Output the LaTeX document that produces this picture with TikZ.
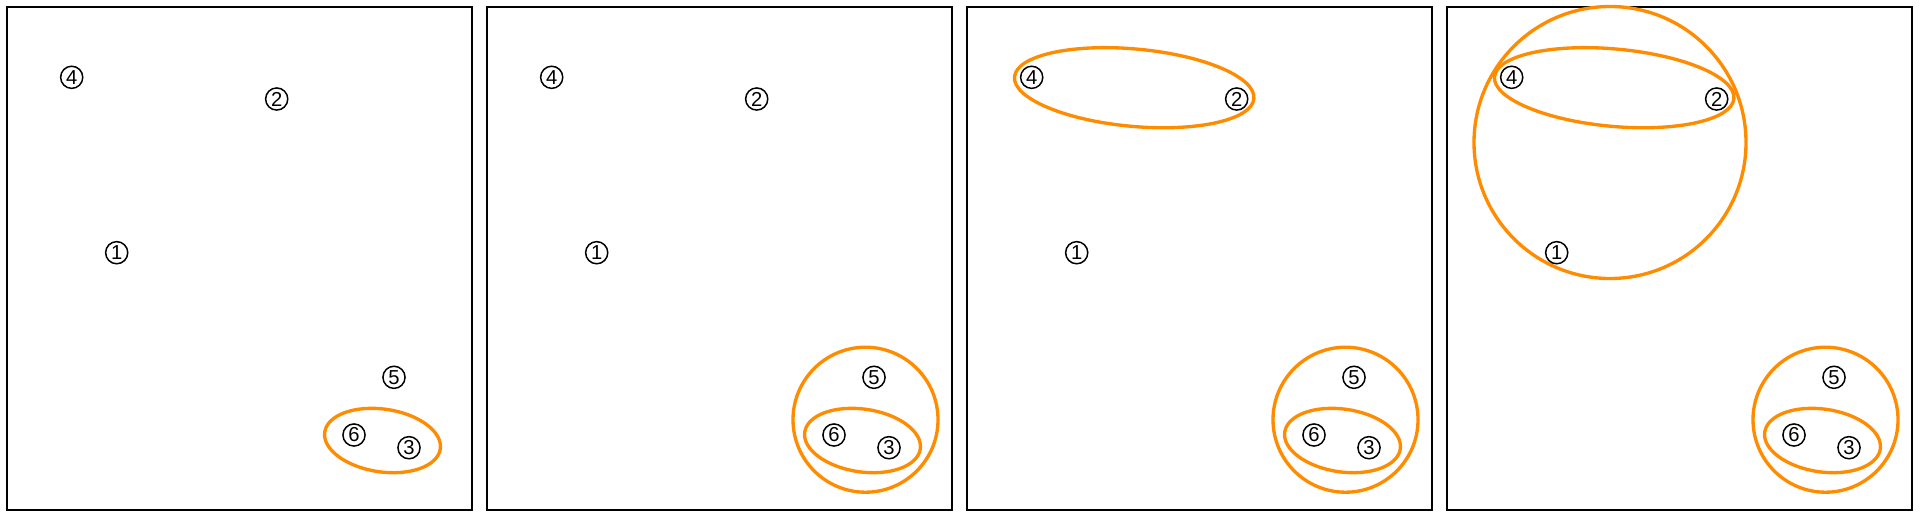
\documentclass[tikz,border=0pt]{standalone}
\usepackage{fontspec}
\setmainfont{Liberation Sans}
\usetikzlibrary{positioning}
\definecolor{hullorange}{RGB}{255,140,0}

\begin{document}
\begin{tikzpicture}[x=0.02cm,y=-0.02cm,
  vert/.style={circle,draw,fill=white,line width=0.85pt,minimum size=12.6pt,inner sep=0pt,font=\fontsize{11.5}{11.5}\selectfont},
  panel/.style={line width=1.1pt},
  hull/.style={draw=hullorange,line width=1.9pt}]
\useasboundingbox (0,0) rectangle (1920,518);
% frames
\foreach \p in {0,...,3}
  \draw[panel] (7+480*\p,7) rectangle +(465,503);
% groups
\foreach \p in {0,...,3}
  \draw[hull,rotate around={-8.3:(382.5+480*\p,440.5)}] (382.5+480*\p,440.5) ellipse [x radius=58.4,y radius=31.4];
\foreach \p in {1,2,3}
  \draw[hull] (385.5+480*\p,419.7) circle [radius=72.5];
\foreach \p in {2,3}
  \draw[hull,rotate around={-5.2:(174.2+480*\p,87.7)}] (174.2+480*\p,87.7) ellipse [x radius=120.2,y radius=38.7];
\draw[hull] (170+1440,142.5) circle [radius=136];
% vertices
\foreach \p in {0,...,3}{
  \node[vert] (p\p-1) at (116.7+480*\p,252.7) {1};
  \node[vert] (p\p-2) at (276.7+480*\p,99) {2};
  \node[vert] (p\p-3) at (409+480*\p,447.7) {3};
  \node[vert] (p\p-4) at (71.7+480*\p,77.3) {4};
  \node[vert] (p\p-5) at (394+480*\p,377.3) {5};
  \node[vert] (p\p-6) at (354+480*\p,435) {6};
}
\end{tikzpicture}
\end{document}
